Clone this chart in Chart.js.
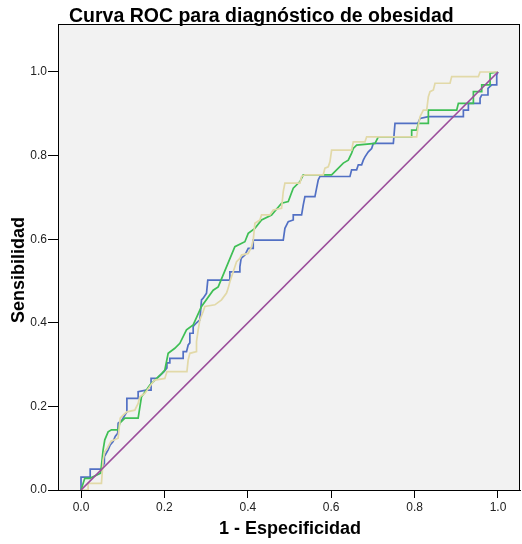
<!DOCTYPE html>
<html>
<head>
<meta charset="utf-8">
<script src="https://cdn.jsdelivr.net/npm/chart.js@4"></script>
<style>
  html, body { margin: 0; padding: 0; background: #fff; }
  #wrap { width: 522px; height: 544px; }
</style>
</head>
<body>
<div id="wrap"><canvas id="roc"></canvas></div>
<script>
// tick labels
const xTicks = [0, 0.2, 0.4, 0.6, 0.8, 1.0];
const yTicks = [0, 0.2, 0.4, 0.6, 0.8, 1.0];

// series 1 (blue)
const blueX = [0, 0, 0.022, 0.022, 0.048, 0.056, 0.056, 0.065, 0.070, 0.077, 0.082, 0.088, 0.089, 0.098, 0.110, 0.110, 0.137, 0.137, 0.156, 0.168, 0.168, 0.182, 0.199, 0.206, 0.206, 0.213, 0.213, 0.245, 0.245, 0.253, 0.257, 0.261, 0.261, 0.269, 0.269, 0.277, 0.285, 0.289, 0.293, 0.301, 0.304, 0.357, 0.357, 0.381, 0.381, 0.384, 0.393, 0.401, 0.413, 0.413, 0.485, 0.489, 0.497, 0.509, 0.509, 0.529, 0.533, 0.537, 0.561, 0.565, 0.569, 0.573, 0.645, 0.649, 0.661, 0.665, 0.673, 0.677, 0.681, 0.689, 0.697, 0.701, 0.749, 0.753, 0.808, 0.813, 0.833, 0.917, 0.917, 0.929, 0.929, 0.957, 0.957, 0.961, 0.976, 0.976, 0.985, 0.997, 0.997, 1];
const blueY = [0, 0.031, 0.031, 0.050, 0.050, 0.064, 0.080, 0.096, 0.108, 0.116, 0.128, 0.136, 0.160, 0.167, 0.187, 0.219, 0.219, 0.235, 0.239, 0.239, 0.267, 0.267, 0.283, 0.292, 0.304, 0.304, 0.315, 0.315, 0.331, 0.331, 0.347, 0.352, 0.375, 0.375, 0.391, 0.400, 0.407, 0.455, 0.459, 0.471, 0.502, 0.502, 0.522, 0.522, 0.534, 0.554, 0.562, 0.578, 0.578, 0.598, 0.598, 0.626, 0.642, 0.646, 0.658, 0.658, 0.682, 0.702, 0.702, 0.722, 0.742, 0.750, 0.750, 0.766, 0.766, 0.778, 0.778, 0.789, 0.797, 0.809, 0.817, 0.829, 0.829, 0.877, 0.877, 0.889, 0.893, 0.893, 0.909, 0.909, 0.925, 0.925, 0.937, 0.945, 0.945, 0.961, 0.969, 0.969, 0.993, 1];

// series 2 (green)
const greenX = [0, 0.009, 0.021, 0.047, 0.053, 0.057, 0.065, 0.073, 0.089, 0.093, 0.105, 0.137, 0.145, 0.157, 0.165, 0.194, 0.201, 0.209, 0.225, 0.237, 0.253, 0.269, 0.289, 0.317, 0.329, 0.369, 0.393, 0.401, 0.417, 0.433, 0.457, 0.481, 0.497, 0.509, 0.525, 0.533, 0.601, 0.629, 0.641, 0.649, 0.653, 0.661, 0.705, 0.713, 0.793, 0.793, 0.805, 0.809, 0.833, 0.833, 0.901, 0.905, 0.941, 0.941, 0.961, 0.961, 0.981, 0.981, 1];
const greenY = [0, 0.028, 0.028, 0.040, 0.096, 0.120, 0.139, 0.144, 0.144, 0.160, 0.172, 0.172, 0.223, 0.239, 0.251, 0.279, 0.287, 0.327, 0.339, 0.351, 0.383, 0.395, 0.439, 0.478, 0.486, 0.582, 0.594, 0.614, 0.626, 0.646, 0.658, 0.686, 0.690, 0.722, 0.738, 0.754, 0.754, 0.782, 0.789, 0.806, 0.817, 0.825, 0.829, 0.845, 0.845, 0.861, 0.861, 0.877, 0.877, 0.909, 0.909, 0.925, 0.925, 0.953, 0.953, 0.969, 0.969, 0.997, 1];

// series 3 (beige)
const beigeX = [0, 0.017, 0.017, 0.049, 0.053, 0.057, 0.063, 0.072, 0.089, 0.094, 0.101, 0.110, 0.129, 0.137, 0.141, 0.153, 0.170, 0.177, 0.201, 0.206, 0.254, 0.257, 0.261, 0.277, 0.277, 0.281, 0.285, 0.293, 0.297, 0.321, 0.337, 0.349, 0.353, 0.357, 0.361, 0.365, 0.369, 0.373, 0.381, 0.385, 0.401, 0.409, 0.413, 0.417, 0.429, 0.433, 0.453, 0.461, 0.481, 0.485, 0.489, 0.525, 0.529, 0.537, 0.581, 0.585, 0.593, 0.597, 0.601, 0.649, 0.653, 0.681, 0.685, 0.805, 0.809, 0.813, 0.821, 0.829, 0.833, 0.837, 0.845, 0.849, 0.885, 0.889, 0.953, 0.957, 1];
const beigeY = [0, 0, 0.016, 0.016, 0.072, 0.092, 0.100, 0.117, 0.124, 0.172, 0.179, 0.187, 0.191, 0.207, 0.223, 0.231, 0.255, 0.263, 0.267, 0.283, 0.283, 0.311, 0.327, 0.331, 0.355, 0.383, 0.407, 0.427, 0.439, 0.443, 0.455, 0.471, 0.483, 0.498, 0.510, 0.522, 0.534, 0.546, 0.554, 0.562, 0.566, 0.582, 0.598, 0.638, 0.646, 0.658, 0.658, 0.670, 0.674, 0.714, 0.734, 0.734, 0.750, 0.754, 0.754, 0.770, 0.773, 0.785, 0.813, 0.813, 0.833, 0.833, 0.845, 0.845, 0.873, 0.893, 0.909, 0.909, 0.941, 0.953, 0.957, 0.973, 0.973, 0.989, 0.989, 1.0, 1];

// reference line
const diagX = [0, 1];
const diagY = [0, 1];

function pts(xs, ys) {
  return xs.map((x, i) => ({ x: x, y: ys[i] }));
}

function lineSet(xs, ys, color) {
  return {
    data: pts(xs, ys),
    borderColor: color,
    borderWidth: 1.7,
    pointRadius: 0,
    showLine: true,
    fill: false,
    tension: 0
  };
}

const font = "'Liberation Sans', Arial, sans-serif";

// plot background, frame and titles
const decor = {
  id: 'decor',
  beforeDatasetsDraw(chart) {
    const { ctx, chartArea: a } = chart;
    ctx.save();
    ctx.fillStyle = '#f2f2f2';
    ctx.fillRect(a.left, a.top, a.right - a.left, a.bottom - a.top);
    ctx.restore();
  },
  afterDraw(chart) {
    const { ctx, chartArea: a } = chart;
    ctx.save();
    ctx.strokeStyle = '#000';
    ctx.lineWidth = 1;
    ctx.strokeRect(a.left + 0.5, a.top + 0.5, a.right - a.left - 1, a.bottom - a.top);
    ctx.fillStyle = '#000';
    ctx.font = 'bold 19.5px ' + font;
    ctx.textBaseline = 'alphabetic';
    ctx.textAlign = 'left';
    ctx.fillText('Curva ROC para diagnóstico de obesidad', 69, 22);
    ctx.font = 'bold 18px ' + font;
    ctx.textAlign = 'center';
    ctx.textBaseline = 'middle';
    ctx.fillText('1 - Especificidad', 290, 529);
    ctx.translate(19, 270);
    ctx.rotate(-Math.PI / 2);
    ctx.fillText('Sensibilidad', 0, 0);
    ctx.restore();
  }
};

new Chart(document.getElementById('roc'), {
  type: 'scatter',
  data: {
    datasets: [
      lineSet(diagX, diagY, '#9b4d9b'),
      lineSet(beigeX, beigeY, '#e2d9a8'),
      lineSet(greenX, greenY, '#3fbf55'),
      lineSet(blueX, blueY, '#5270c4')
    ]
  },
  options: {
    responsive: true,
    maintainAspectRatio: false,
    animation: false,
    layout: { padding: { left: 0, right: 2, top: 24, bottom: 0 } },
    plugins: { legend: { display: false }, tooltip: { enabled: false }, title: { display: false } },
    scales: {
      x: {
        type: 'linear',
        min: -0.0552,
        max: 1.0528,
        afterBuildTicks: s => { s.ticks = xTicks.map(v => ({ value: v })); },
        afterFit: s => { s.height = 54; },
        ticks: {
          callback: v => v.toFixed(1),
          color: '#222',
          font: { family: font, size: 12 },
          padding: 2,
          maxRotation: 0
        },
        grid: { drawOnChartArea: false, drawTicks: true, tickLength: 8, color: '#000', lineWidth: 1 },
        border: { display: true, color: '#000', width: 1 }
      },
      y: {
        type: 'linear',
        min: 0,
        max: 1.1148,
        afterBuildTicks: s => { s.ticks = yTicks.map(v => ({ value: v })); },
        afterFit: s => { s.width = 58; },
        ticks: {
          callback: v => v.toFixed(1),
          color: '#222',
          font: { family: font, size: 12 },
          padding: 1
        },
        grid: { drawOnChartArea: false, drawTicks: true, tickLength: 10, color: '#000', lineWidth: 1 },
        border: { display: true, color: '#000', width: 1 }
      }
    }
  },
  plugins: [decor]
});
</script>
</body>
</html>
